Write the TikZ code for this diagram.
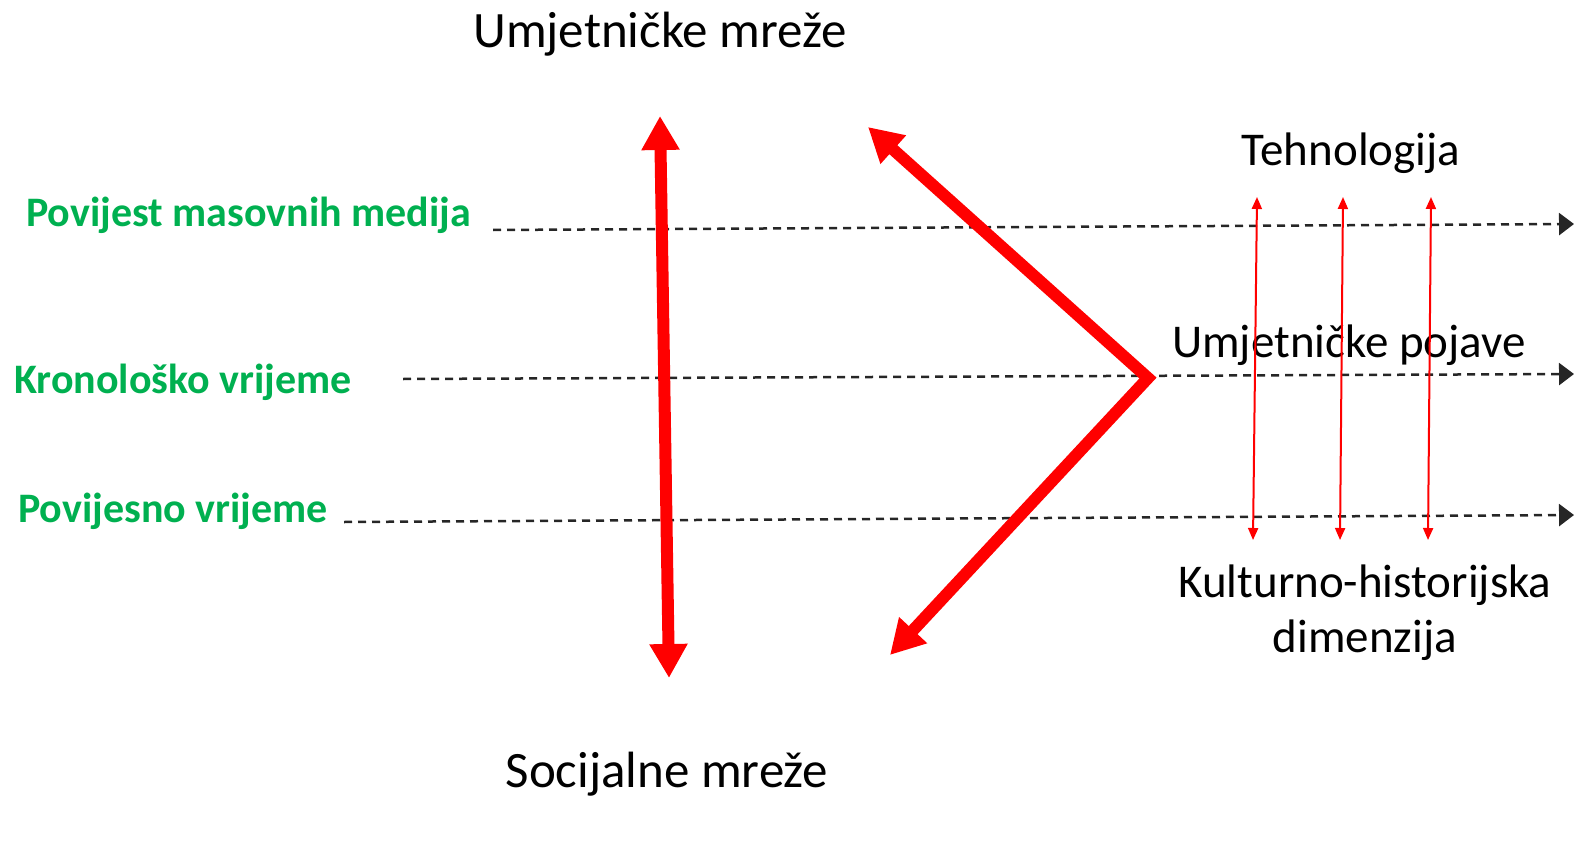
\documentclass[tikz,border=0pt]{standalone}
\usepackage{fontspec}
\setmainfont{Carlito}
\usepackage{xcolor}
\usepackage{tikz}
\usetikzlibrary{arrows.meta}
\definecolor{osgreen}{RGB}{0,176,80}
\tikzset{lbl/.style={font=\fontsize{47}{56}\selectfont,inner sep=0pt,anchor=base}}
\tikzset{netlbl/.style={lbl,font=\fontsize{51}{60}\selectfont}}
\tikzset{tlbl/.style={text=osgreen,font=\bfseries\fontsize{42}{50}\selectfont,inner sep=0pt,anchor=base west}}
\tikzset{tline/.style={black!85,line width=2.5pt,dash pattern=on 8pt off 6pt,-{Triangle[length=15pt,width=22pt]}}}
\tikzset{bigarr/.style={red,line width=12pt,line join=miter,{Triangle[length=34pt,width=36pt]}-{Triangle[length=34pt,width=36pt]}}}
\tikzset{thinarr/.style={red,line width=2pt,{Triangle[length=12pt,width=10pt]}-{Triangle[length=12pt,width=10pt]}}}

\begin{document}
\begin{tikzpicture}[x=1pt,y=-1pt]
        \useasboundingbox (0,0) rectangle (1574,848);
        \node[netlbl] (um)at (660,48) {Umjetničke mreže};
        \node[netlbl] (sm)at (667,787) {Socijalne mreže};
        \node[lbl] (teh)at (1351,165) {Tehnologija};
        \node[lbl] (up)at (1349,357) {Umjetničke pojave};
        \node[lbl] (kh)at (1365,597) {Kulturno-historijska};
        \node[lbl] (dim)at (1365,652) {dimenzija};
        \node[tlbl] (pmm)at (26,226) {Povijest masovnih medija};
        \node[tlbl] (kv)at (14,393) {Kronološko vrijeme};
        \node[tlbl] (pv)at (18,522) {Povijesno vrijeme};

        \coordinate (pmm1) at (493,230);
        \coordinate (pmm2) at (1574,224);
        \coordinate (kv1) at (403,379);
        \coordinate (kv2) at (1574,374);
        \coordinate (pv1) at (344,522);
        \coordinate (pv2) at (1574,515);
        \coordinate (v1) at (660,116);
        \coordinate (v2) at (669,678);
        \coordinate (c1) at (868,127);
        \coordinate (c2) at (1148,378);
        \coordinate (c3) at (890,655);
        \coordinate (t1) at (1257,197);
        \coordinate (t2) at (1253,540);
        \coordinate (t3) at (1343,197);
        \coordinate (t4) at (1340,540);
        \coordinate (t5) at (1431,197);
        \coordinate (t6) at (1428,540);

        \draw [tline] (pmm1) to (pmm2);
        \draw [tline] (kv1) to (kv2);
        \draw [tline] (pv1) to (pv2);
        \draw [bigarr] (v1) to (v2);
        \draw [bigarr] (c1) to (c2) to (c3);
        \draw [thinarr] (t1) to (t2);
        \draw [thinarr] (t3) to (t4);
        \draw [thinarr] (t5) to (t6);
    \end{tikzpicture}
\end{document}
